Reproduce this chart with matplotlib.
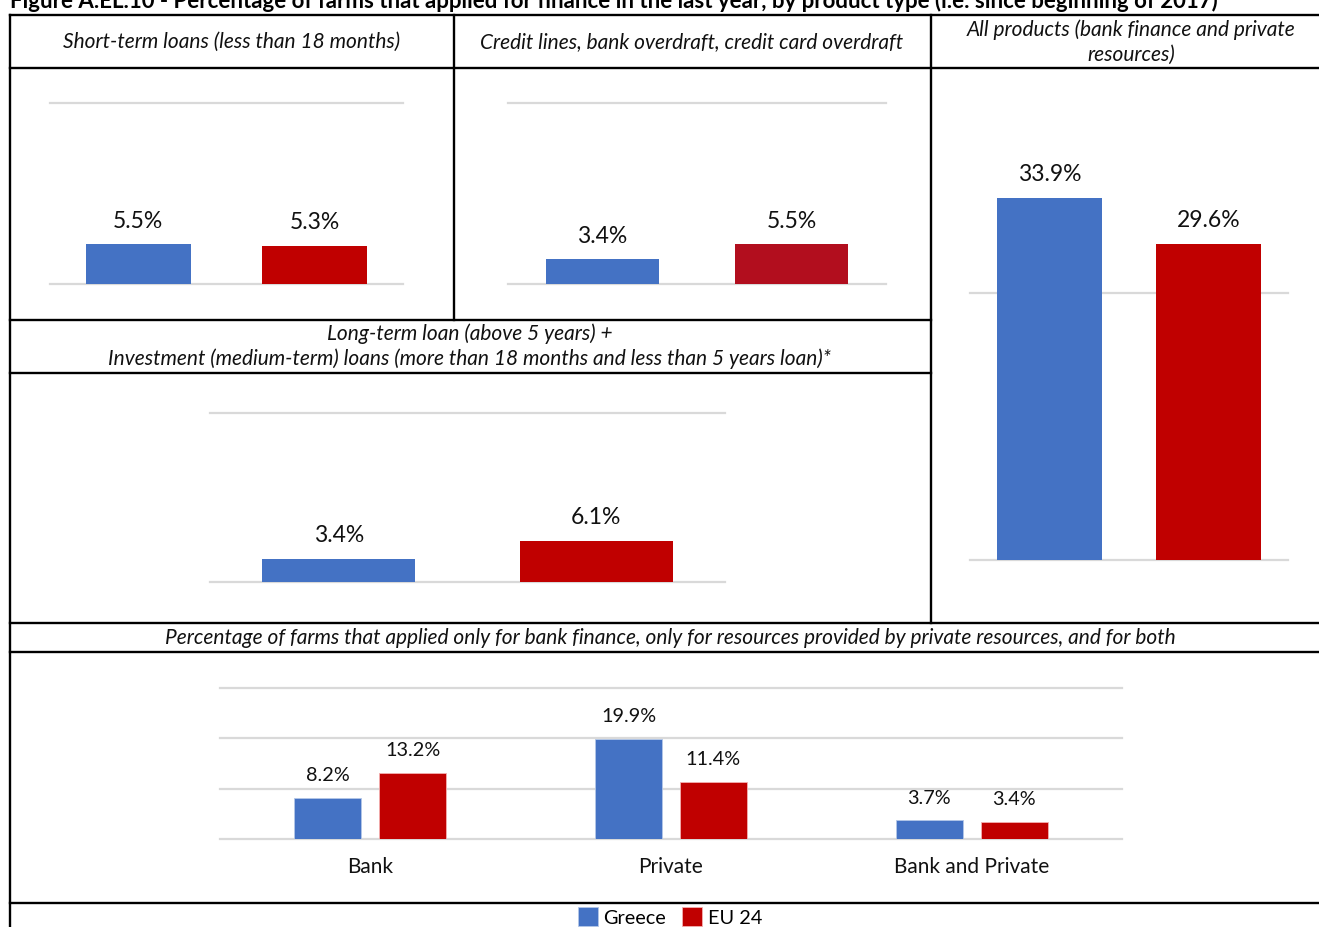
import matplotlib.pyplot as plt
from matplotlib.lines import Line2D

# Dữ liệu
countries = ['Greece', 'EU 24']
short_term = [5.5, 5.3]
credit_lines = [3.4, 5.5]
long_term = [3.4, 6.1]
all_products = [33.9, 29.6]

applied_cats = ['Bank', 'Private', 'Bank and Private']
applied_greece = [8.2, 19.9, 3.7]
applied_eu = [13.2, 11.4, 3.4]

BLUE = '#4472C4'
RED = '#C00000'
RED_DARK = '#B20E1E'
GRID = '#D9D9D9'
TXT = '#111111'

W, H = 1319, 927
plt.rcParams['font.family'] = ['Lato', 'DejaVu Sans']

fig = plt.figure(figsize=(W / 100, H / 100), dpi=100)


def px_axes(left, right, zero_y, top_y, top_val):
    # axes nằm giữa đường 0 và đường lưới trên cùng
    ax = fig.add_axes([left / W, 1 - zero_y / H, (right - left) / W, (zero_y - top_y) / H])
    ax.set_ylim(0, top_val)
    ax.axis('off')
    return ax


def line(x0, y0, x1, y1):
    fig.add_artist(Line2D([x0 / W, x1 / W], [1 - y0 / H, 1 - y1 / H],
                          color='black', lw=1.7, transform=fig.transFigure))


def two_bar_panel(ax, values, colors, width=0.595):
    ax.set_xlim(-0.5, 1.5)
    for v in ax.get_ylim():
        ax.axhline(v, color=GRID, lw=1.6, zorder=0, clip_on=False)
    bars = ax.bar(range(len(values)), values, width=width, color=colors, zorder=2)
    for b, v in zip(bars, values):
        ax.annotate(f'{v:.1f}%', (b.get_x() + b.get_width() / 2, v),
                    xytext=(0, 12), textcoords='offset points',
                    ha='center', va='baseline', fontsize=16.5, color=TXT,
                    annotation_clip=False)


# Tiêu đề (bị cắt ở mép trên như ảnh gốc)
fig.text(10 / W, 1 - 8 / H,
         'Figure A.EL.10 - Percentage of farms that applied for finance in the last year, '
         'by product type (i.e. since beginning of 2017)',
         fontsize=16, fontweight='bold', va='baseline', ha='left')

# Khung bảng
line(10, 15, W, 15)
line(10, 68, W, 68)
line(10, 320, 931, 320)
line(10, 373, 931, 373)
line(10, 623, W, 623)
line(10, 652, W, 652)
line(10, 903, W, 903)
line(10, 15, 10, H)
line(454, 15, 454, 320)
line(931, 15, 931, 623)

# Tiêu đề các ô
hdr = dict(fontsize=15, style='italic', ha='center', va='center', color=TXT)
fig.text(232 / W, 1 - 42 / H, 'Short-term loans (less than 18 months)', **hdr)
fig.text(692 / W, 1 - 42 / H, 'Credit lines, bank overdraft, credit card overdraft', **hdr)
fig.text(1131 / W, 1 - 30 / H, 'All products (bank finance and private', **hdr)
fig.text(1131 / W, 1 - 55 / H, 'resources)', **hdr)
fig.text(470 / W, 1 - 334 / H, 'Long-term loan (above 5 years) +', **hdr)
fig.text(470 / W, 1 - 359 / H,
         'Investment (medium-term) loans (more than 18 months and less than 5 years loan)*', **hdr)
fig.text(670 / W, 1 - 638 / H,
         'Percentage of farms that applied only for bank finance, only for resources '
         'provided by private resources, and for both', **hdr)

# Các biểu đồ nhỏ
ax1 = px_axes(50, 403, 284, 103, 25)
two_bar_panel(ax1, short_term, [BLUE, RED])

ax2 = px_axes(508, 886, 284, 103, 25)
two_bar_panel(ax2, credit_lines, [BLUE, RED_DARK])

ax3 = px_axes(210, 725, 582, 413, 25)
two_bar_panel(ax3, long_term, [BLUE, RED])

ax4 = px_axes(970, 1288, 560, 293, 25)
ax4.set_xlim(-0.5, 1.5)
for v in (0, 25):
    ax4.axhline(v, color=GRID, lw=1.6, zorder=0, clip_on=False)
bars4 = ax4.bar(range(2), all_products, width=0.665, color=[BLUE, RED], zorder=2, clip_on=False)
for b, v in zip(bars4, all_products):
    ax4.annotate(f'{v:.1f}%', (b.get_x() + b.get_width() / 2, v),
                 xytext=(0, 12), textcoords='offset points',
                 ha='center', va='baseline', fontsize=16.5, color=TXT,
                 annotation_clip=False)

# Biểu đồ dưới: Bank / Private / Both
ax5 = fig.add_axes([220 / W, 1 - 839 / H, (1122 - 220) / W, (839 - 688) / H])
ax5.set_ylim(0, 30)
ax5.set_xlim(-0.5, 2.5)
for s in ax5.spines.values():
    s.set_visible(False)
ax5.set_yticks([])
for v in (0, 10, 20, 30):
    ax5.axhline(v, color=GRID, lw=1.6, zorder=0, clip_on=False)
x = range(len(applied_cats))
off, bw = 0.141, 0.223
b_gr = ax5.bar([i - off for i in x], applied_greece, width=bw, color=BLUE,
               edgecolor='#B4C7E7', lw=0.6, zorder=2, label=countries[0])
b_eu = ax5.bar([i + off for i in x], applied_eu, width=bw, color=RED,
               edgecolor='#F4B0B0', lw=0.6, zorder=2, label=countries[1])
for bars in (b_gr, b_eu):
    for b in bars:
        v = b.get_height()
        ax5.annotate(f'{v:.1f}%', (b.get_x() + b.get_width() / 2, v),
                     xytext=(0, 12), textcoords='offset points',
                     ha='center', va='baseline', fontsize=14.3, color=TXT)
ax5.set_xticks(list(x))
ax5.set_xticklabels(applied_cats, fontsize=15, color=TXT)
ax5.tick_params(axis='x', length=0, pad=13)

fig.legend(handles=[b_gr, b_eu], labels=countries, loc='center',
           bbox_to_anchor=(670 / W, 1 - 917 / H), ncol=2, frameon=False,
           fontsize=14.3, handlelength=1.0, handleheight=1.1,
           handletextpad=0.3, columnspacing=0.8, borderpad=0)

fig.savefig('out.png', dpi=100)
